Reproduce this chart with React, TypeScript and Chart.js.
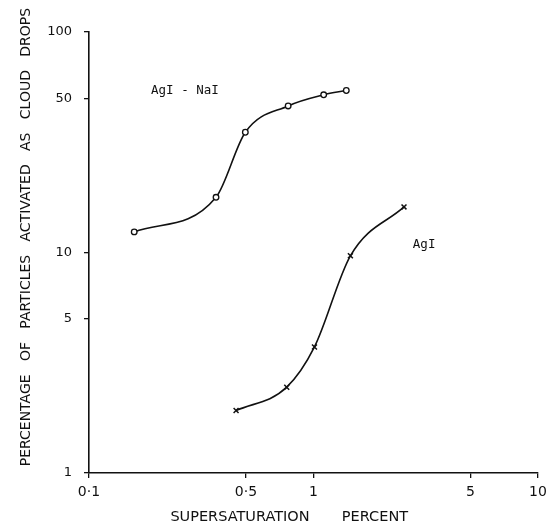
import { useEffect, useRef } from 'react';
import { Chart, registerables } from 'chart.js';

Chart.register(...registerables);

// AgI-NaI series (circles)
const agiNaiX = [0.159, 0.368, 0.497, 0.771, 1.11, 1.40];
const agiNaiY = [12.4, 17.8, 35.1, 46.2, 51.9, 54.3];
// AgI series (crosses)
const agiX = [0.452, 0.760, 1.01, 1.46, 2.53];
const agiY = [1.92, 2.45, 3.73, 9.66, 16.1];

const xTicks = [0.1, 0.5, 1, 5, 10];
const xTickLabels = ['0·1', '0·5', '1', '5', '10'];
const yTicks = [1, 5, 10, 50, 100];
const yTickLabels = ['1', '5', '10', '50', '100'];

const seriesLabels = ['AgI - NaI', 'AgI'];
const labelX = [0.189, 2.77];
const labelY = [54, 10.8];

const xTitle = 'SUPERSATURATION       PERCENT';
const yTitle = 'PERCENTAGE   OF   PARTICLES   ACTIVATED   AS   CLOUD   DROPS';

const FONT = '"DejaVu Sans", sans-serif';
const MONO = '"DejaVu Sans Mono", monospace';

export default function App() {
  const ref = useRef<HTMLCanvasElement | null>(null);

  useEffect(() => {
    document.body.style.margin = '0';
    const canvas = ref.current;
    if (!canvas) return;

    const annot = {
      id: 'annot',
      afterDraw(chart: any) {
        const ctx = chart.ctx;
        const xs = chart.scales.x;
        const ys = chart.scales.y;
        const ca = chart.chartArea;
        ctx.save();
        ctx.fillStyle = '#111';
        ctx.font = `12.5px ${MONO}`;
        ctx.textAlign = 'left';
        ctx.textBaseline = 'middle';
        for (let i = 0; i < seriesLabels.length; i++) {
          ctx.fillText(seriesLabels[i], xs.getPixelForValue(labelX[i]), ys.getPixelForValue(labelY[i]));
        }
        // x title
        ctx.font = `14.5px ${FONT}`;
        ctx.textAlign = 'center';
        ctx.textBaseline = 'middle';
        ctx.fillText(xTitle, ca.left + (ca.right - ca.left) * 0.446, ca.bottom + 44);
        // y title
        ctx.font = `14px ${FONT}`;
        ctx.translate(26, ca.top + (ca.bottom - ca.top) * 0.465);
        ctx.rotate(-Math.PI / 2);
        ctx.fillText(yTitle, 0, 0);
        ctx.restore();
      },
    };

    const chart = new Chart(canvas, {
      type: 'line',
      data: {
        datasets: [
          {
            label: seriesLabels[0],
            data: agiNaiX.map((x, i) => ({ x, y: agiNaiY[i] })),
            borderColor: '#111',
            borderWidth: 1.6,
            pointStyle: 'circle',
            pointRadius: 2.8,
            pointBorderWidth: 1.3,
            pointBackgroundColor: '#fff',
            pointBorderColor: '#111',
            cubicInterpolationMode: 'monotone',
            fill: false,
          },
          {
            label: seriesLabels[1],
            data: agiX.map((x, i) => ({ x, y: agiY[i] })),
            borderColor: '#111',
            borderWidth: 1.6,
            pointStyle: 'crossRot',
            pointRadius: 3.5,
            pointBorderWidth: 1.5,
            pointBackgroundColor: '#fff',
            pointBorderColor: '#111',
            cubicInterpolationMode: 'monotone',
            fill: false,
          },
        ],
      },
      options: {
        responsive: false,
        animation: false,
        layout: { padding: { top: 32, right: 9, left: 0, bottom: 0 } },
        plugins: {
          legend: { display: false },
          tooltip: { enabled: false },
          title: { display: false },
        },
        scales: {
          x: {
            type: 'logarithmic',
            min: 0.1,
            max: 10,
            afterBuildTicks: (s: any) => {
              s.ticks = xTicks.map((v) => ({ value: v }));
            },
            afterFit: (s: any) => {
              s.height = 54;
              s.paddingRight = 0;
              s.paddingLeft = 0;
            },
            ticks: {
              autoSkip: false,
              maxRotation: 0,
              color: '#111',
              font: { family: FONT, size: 14 },
              padding: 6,
              callback: (v: any) => {
                const i = xTicks.indexOf(Number(v));
                return i >= 0 ? xTickLabels[i] : '';
              },
            },
            grid: { display: true, drawOnChartArea: false, drawTicks: true, tickLength: 5, color: '#111', lineWidth: 1.3 },
            border: { display: true, color: '#111', width: 1.6 },
          },
          y: {
            type: 'logarithmic',
            min: 1,
            max: 100,
            afterBuildTicks: (s: any) => {
              s.ticks = yTicks.map((v) => ({ value: v }));
            },
            afterFit: (s: any) => {
              s.width = 89;
              s.paddingTop = 0;
              s.paddingBottom = 0;
            },
            ticks: {
              autoSkip: false,
              color: '#111',
              font: { family: FONT, size: 13 },
              padding: 12,
              callback: (v: any) => {
                const i = yTicks.indexOf(Number(v));
                return i >= 0 ? yTickLabels[i] : '';
              },
            },
            grid: { display: true, drawOnChartArea: false, drawTicks: true, tickLength: 5, color: '#111', lineWidth: 1.3 },
            border: { display: true, color: '#111', width: 1.6 },
          },
        },
      },
      plugins: [annot],
    });

    return () => chart.destroy();
  }, []);

  return <canvas ref={ref} width={547} height={527} style={{ display: 'block' }} />;
}
